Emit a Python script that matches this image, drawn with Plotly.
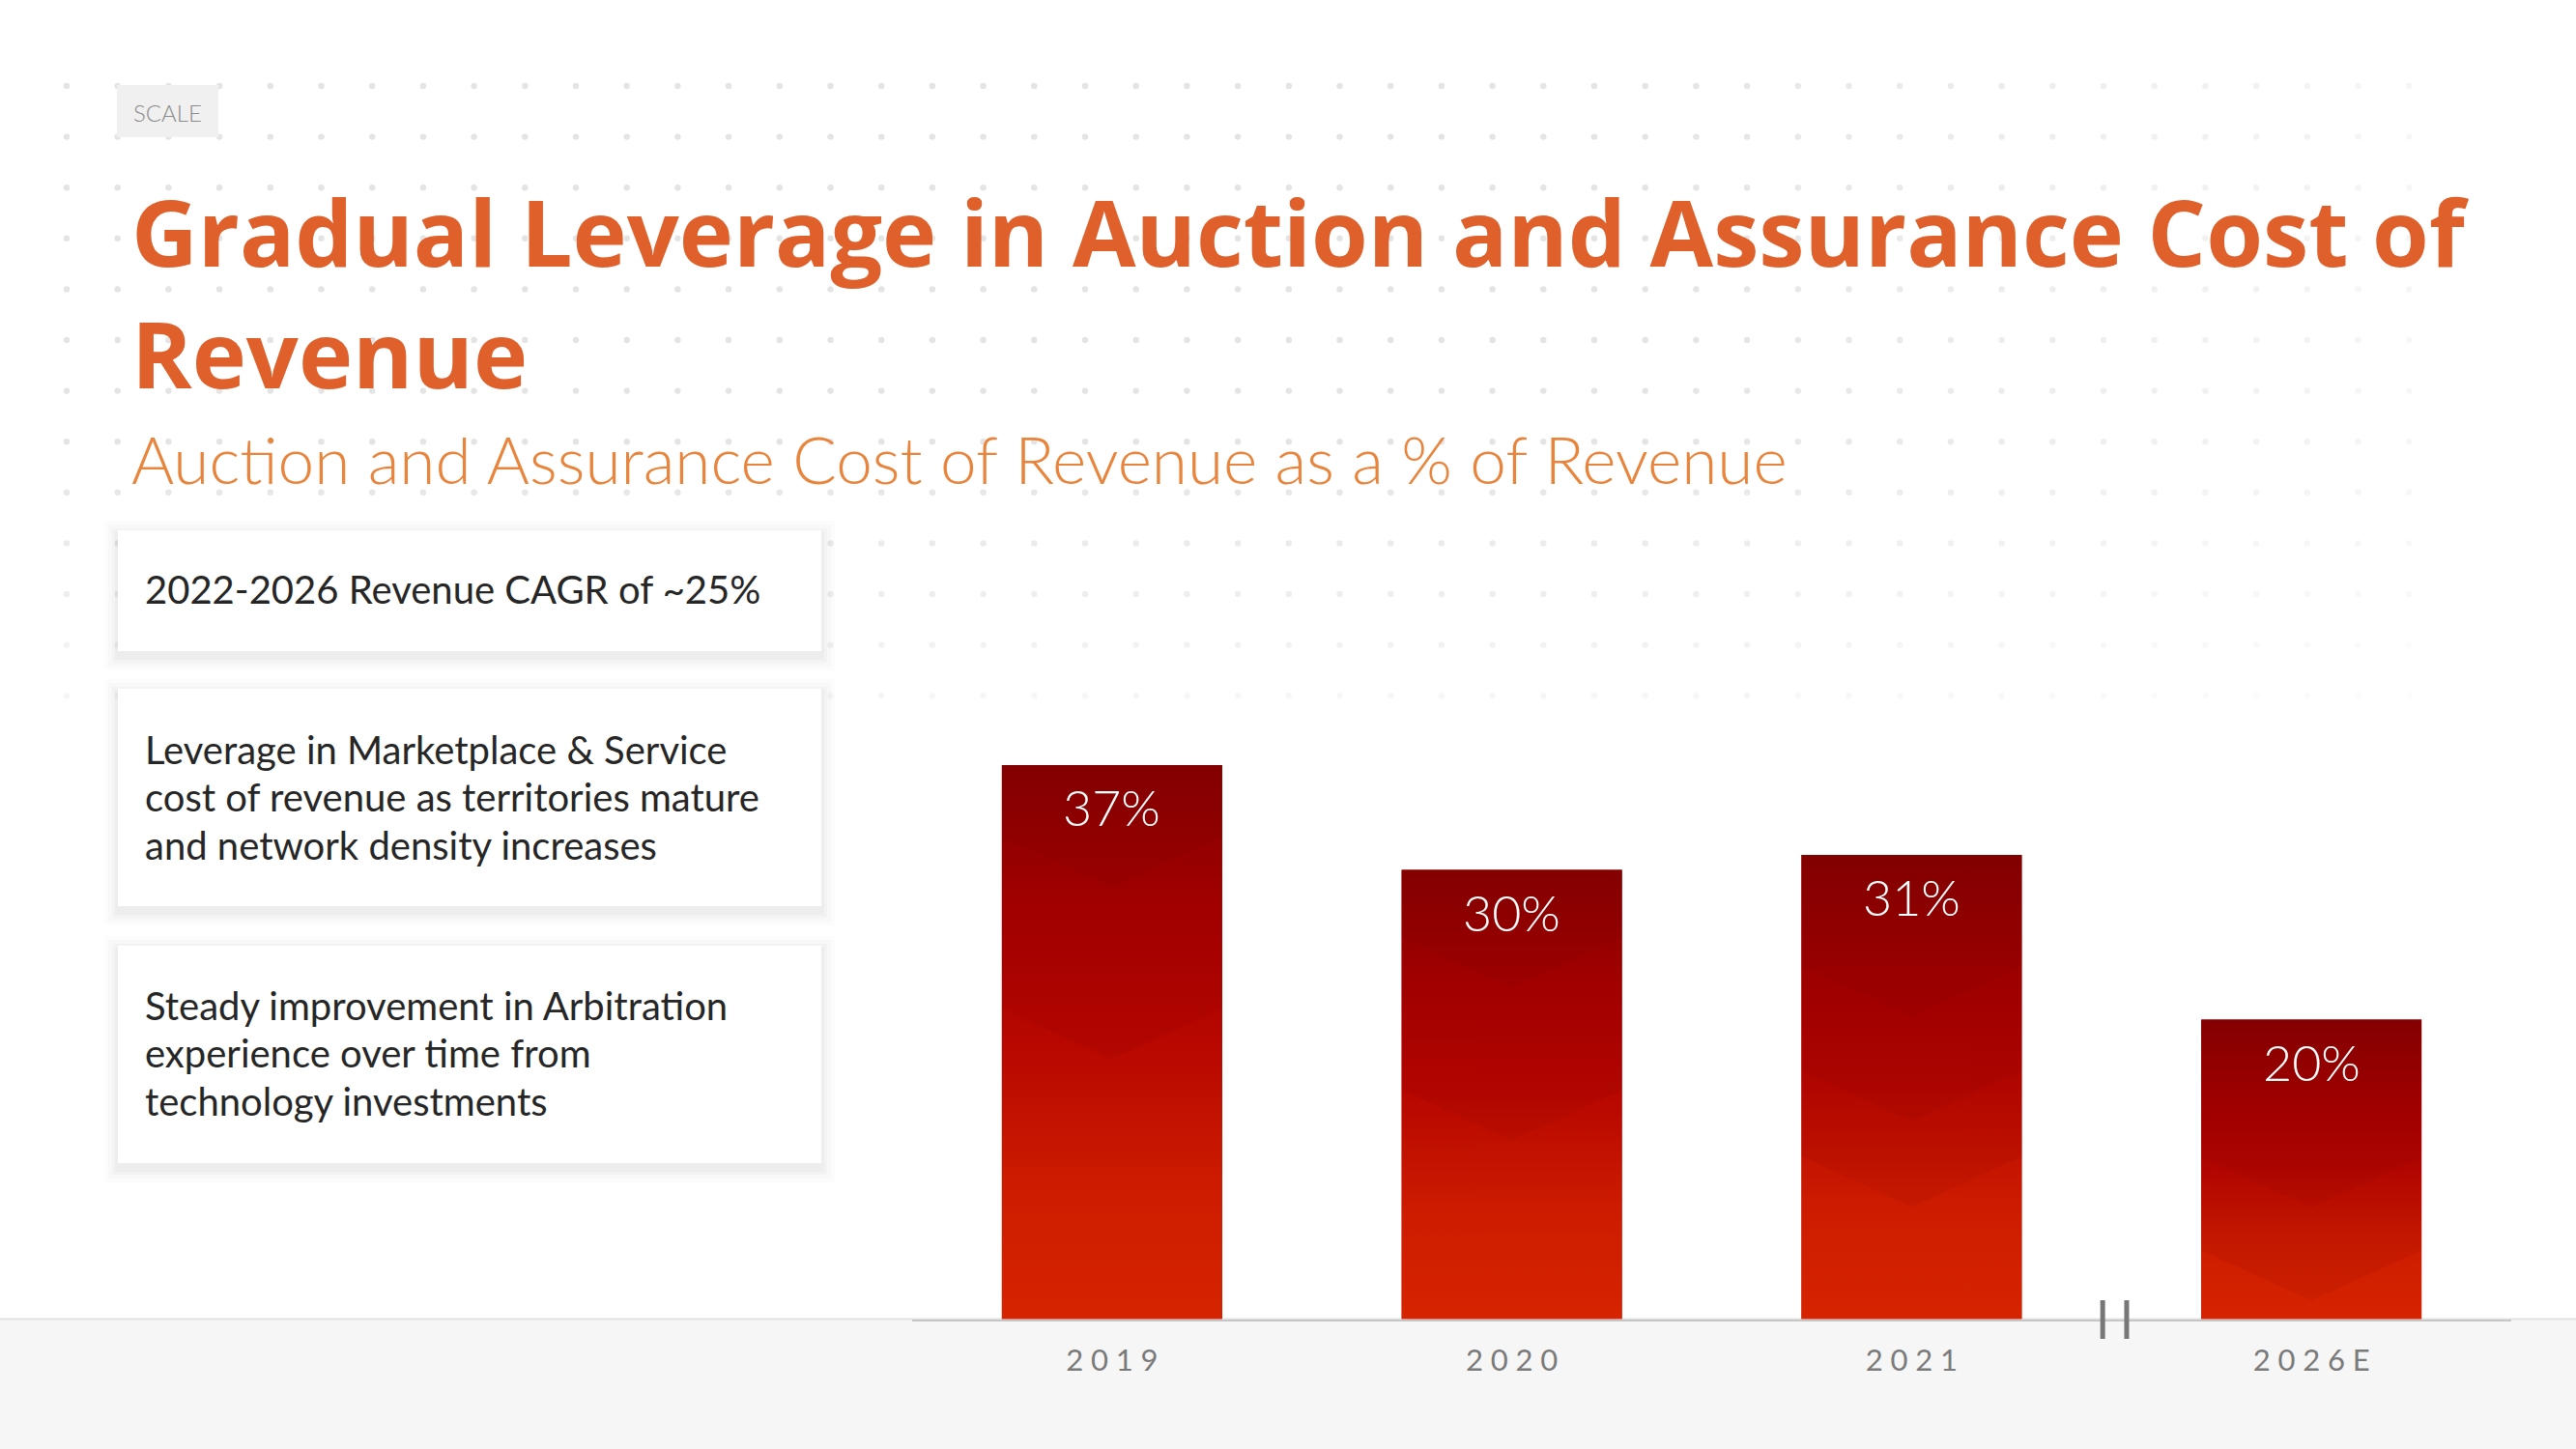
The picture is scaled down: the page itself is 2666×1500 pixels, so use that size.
import plotly.graph_objects as go
import numpy as np

# ---------------- data ----------------
categories = ["2019", "2020", "2021", "2026E"]
values = [37, 30, 31, 20]
value_labels = ["37%", "30%", "31%", "20%"]

title_lines = ["Gradual Leverage in Auction and Assurance Cost of", "Revenue"]
subtitle = "Auction and Assurance Cost of Revenue as a % of Revenue"
badge = "SCALE"
card_lines = [
    ["2022-2026 Revenue CAGR of ~25%"],
    ["Leverage in Marketplace & Service", "cost of revenue as territories mature", "and network density increases"],
    ["Steady improvement in Arbitration", "experience over time from", "technology investments"],
]

# ---------------- layout constants (pixels) ----------------
W, H = 2666, 1500
PX_PER_UNIT = 15.5          # vertical pixels per percentage point
BASE_PX = 1365.5            # baseline (y=0) from top
X_LEFT_PX, X_RIGHT_PX = 944, 2599
BAR_W = 0.551

def px(x):
    return x / W

def py(y):
    return 1 - y / H

y_dom0 = py(BASE_PX)
y_max = BASE_PX / PX_PER_UNIT

TITLE_C = "#e0602c"
SUB_C = "#e8843c"
FONT = "Lato"

grad_scale = [[0.0, "#d62400"], [0.25, "#cc1b00"], [0.5, "#b70700"],
              [0.75, "#a50000"], [1.0, "#870000"]]
# chevron side positions as fraction from top of each bar (style only)
chevron_fracs = [[0.13, 0.44], [0.15, 0.49], [0.24, 0.465, 0.65], [0.46, 0.77]]
CHEV_DEPTH = 52 / PX_PER_UNIT

fig = go.Figure()

xs = list(range(len(categories)))

# base bars (data carriers)
fig.add_trace(go.Bar(x=xs, y=values, width=BAR_W, marker=dict(color="#b70700", line=dict(width=0)),
                     hoverinfo="x+y", showlegend=False))

# gradient overlays computed from the data
for i, v in zip(xs, values):
    x0, x1 = i - BAR_W / 2, i + BAR_W / 2
    fig.add_trace(go.Scatter(
        x=[x0, x1, x1, x0, x0], y=[0, 0, v, v, 0], mode="lines", fill="toself",
        line=dict(width=0), fillcolor="#b70700",
        fillgradient=dict(type="vertical", colorscale=grad_scale, start=0, stop=v),
        hoverinfo="skip", showlegend=False))
    xc = i
    for f in chevron_fracs[i]:
        ys = v * (1 - f)
        fig.add_trace(go.Scatter(
            x=[x0, x1, x1, xc, x0, x0], y=[v, v, ys, ys - CHEV_DEPTH, ys, v],
            mode="lines", fill="toself", line=dict(width=0),
            fillcolor="rgba(110,0,0,0.08)", hoverinfo="skip", showlegend=False))

shapes = []
annotations = []

# dotted background grid
for j in range(13):
    yy = 89 + 52.6 * j
    for k in range(47):
        xx = 69 + 52.7 * k
        op = 1.0
        if xx > 1700:
            op *= max(0.3, 1 - (xx - 1700) / 1200)
        if j > 7:
            op *= max(0.35, 1 - (j - 7) * 0.13)
        r = 3.2
        shapes.append(dict(type="circle", xref="paper", yref="paper", layer="below",
                           x0=px(xx - r), x1=px(xx + r), y0=py(yy + r), y1=py(yy - r),
                           fillcolor="#e4e4e4", opacity=op, line=dict(width=0)))

# bottom grey band
shapes.append(dict(type="rect", xref="paper", yref="paper", layer="below",
                   x0=0, x1=1, y0=0, y1=y_dom0, fillcolor="#f6f6f6", line=dict(width=0)))
shapes.append(dict(type="line", xref="paper", yref="paper", layer="below",
                   x0=0, x1=1, y0=y_dom0, y1=y_dom0, line=dict(color="#e2e2e2", width=2)))

# badge
shapes.append(dict(type="rect", xref="paper", yref="paper", layer="below",
                   x0=px(121), x1=px(226), y0=py(142), y1=py(88),
                   fillcolor="#f0f0f0", line=dict(width=0)))
annotations.append(dict(text=badge, x=px(173), y=py(117), xref="paper", yref="paper",
                        showarrow=False, xanchor="center", yanchor="middle",
                        font=dict(family=FONT, size=24, color="#8a8a8a", weight=300)))

# titles
TITLE_FONT = dict(family="Open Sans", size=95, color=TITLE_C, weight=700)
annotations.append(dict(text=title_lines[0], x=px(134), y=py(239), xref="paper", yref="paper",
                        showarrow=False, xanchor="left", yanchor="middle", font=TITLE_FONT))
annotations.append(dict(text=title_lines[1], x=px(134), y=py(365), xref="paper", yref="paper",
                        showarrow=False, xanchor="left", yanchor="middle", font=TITLE_FONT))
annotations.append(dict(text=subtitle, x=px(134), y=py(474), xref="paper", yref="paper",
                        showarrow=False, xanchor="left", yanchor="middle",
                        font=dict(family=FONT, size=67.5, color=SUB_C, weight=300)))

# cards
cards_px = [(549, 674), (713, 938), (979, 1204)]
line_mids = [[609.5], [775.5, 825, 874.5], [1040.5, 1090, 1139.5]]
for (t, b), lines, mids in zip(cards_px, card_lines, line_mids):
    for s, a in [(14, 0.010), (10, 0.014), (6, 0.018), (3, 0.022)]:
        shapes.append(dict(type="rect", xref="paper", yref="paper", layer="below",
                           x0=px(122 - s), x1=px(850 + s), y0=py(b + s + 6), y1=py(t - s + 4),
                           fillcolor=f"rgba(0,0,0,{a})", line=dict(width=0)))
    shapes.append(dict(type="rect", xref="paper", yref="paper", layer="below",
                       x0=px(122), x1=px(850), y0=py(b), y1=py(t),
                       fillcolor="#ffffff", line=dict(width=0)))
    for ln, m in zip(lines, mids):
        annotations.append(dict(text=ln, x=px(148), y=py(m), xref="paper", yref="paper",
                                showarrow=False, xanchor="left", yanchor="middle",
                                font=dict(family=FONT, size=40, color="#262626", weight=400)))

# value labels inside bar tops
for i, v, lab in zip(xs, values, value_labels):
    annotations.append(dict(text=lab, x=i, y=v, xref="x", yref="y", showarrow=False,
                            xanchor="center", yanchor="top", yshift=-10,
                            font=dict(family=FONT, size=52, color="#ffffff", weight=300)))

# axis break marker between the last actual year and the estimate
xm = (xs[-2] + xs[-1]) / 2 + 0.008
for dx in (-0.03, 0.03):
    shapes.append(dict(type="line", xref="x", yref="paper", layer="above",
                       x0=xm + dx, x1=xm + dx, y0=py(1346), y1=py(1386),
                       line=dict(color="#777777", width=5)))

tick_text = ["\u2005".join(list(c)) for c in categories]

fig.update_layout(
    width=W, height=H,
    margin=dict(l=0, r=0, t=0, b=0),
    paper_bgcolor="#ffffff", plot_bgcolor="rgba(0,0,0,0)",
    showlegend=False,
    shapes=shapes, annotations=annotations,
    xaxis=dict(domain=[px(X_LEFT_PX), px(X_RIGHT_PX)], range=[-0.5, len(categories) - 0.5],
               tickvals=xs, ticktext=tick_text, showgrid=False, zeroline=False,
               showline=True, linecolor="#c6c6c6", linewidth=2, ticks="",
               ticklabelstandoff=14,
               tickfont=dict(family=FONT, size=31, color="#7a7a7a", weight=400),
               fixedrange=True),
    yaxis=dict(domain=[y_dom0, 1], range=[0, y_max], visible=False, fixedrange=True),
)

fig.write_html("out.html", config={"displayModeBar": False},
               post_script="document.body.style.margin='0px';")
